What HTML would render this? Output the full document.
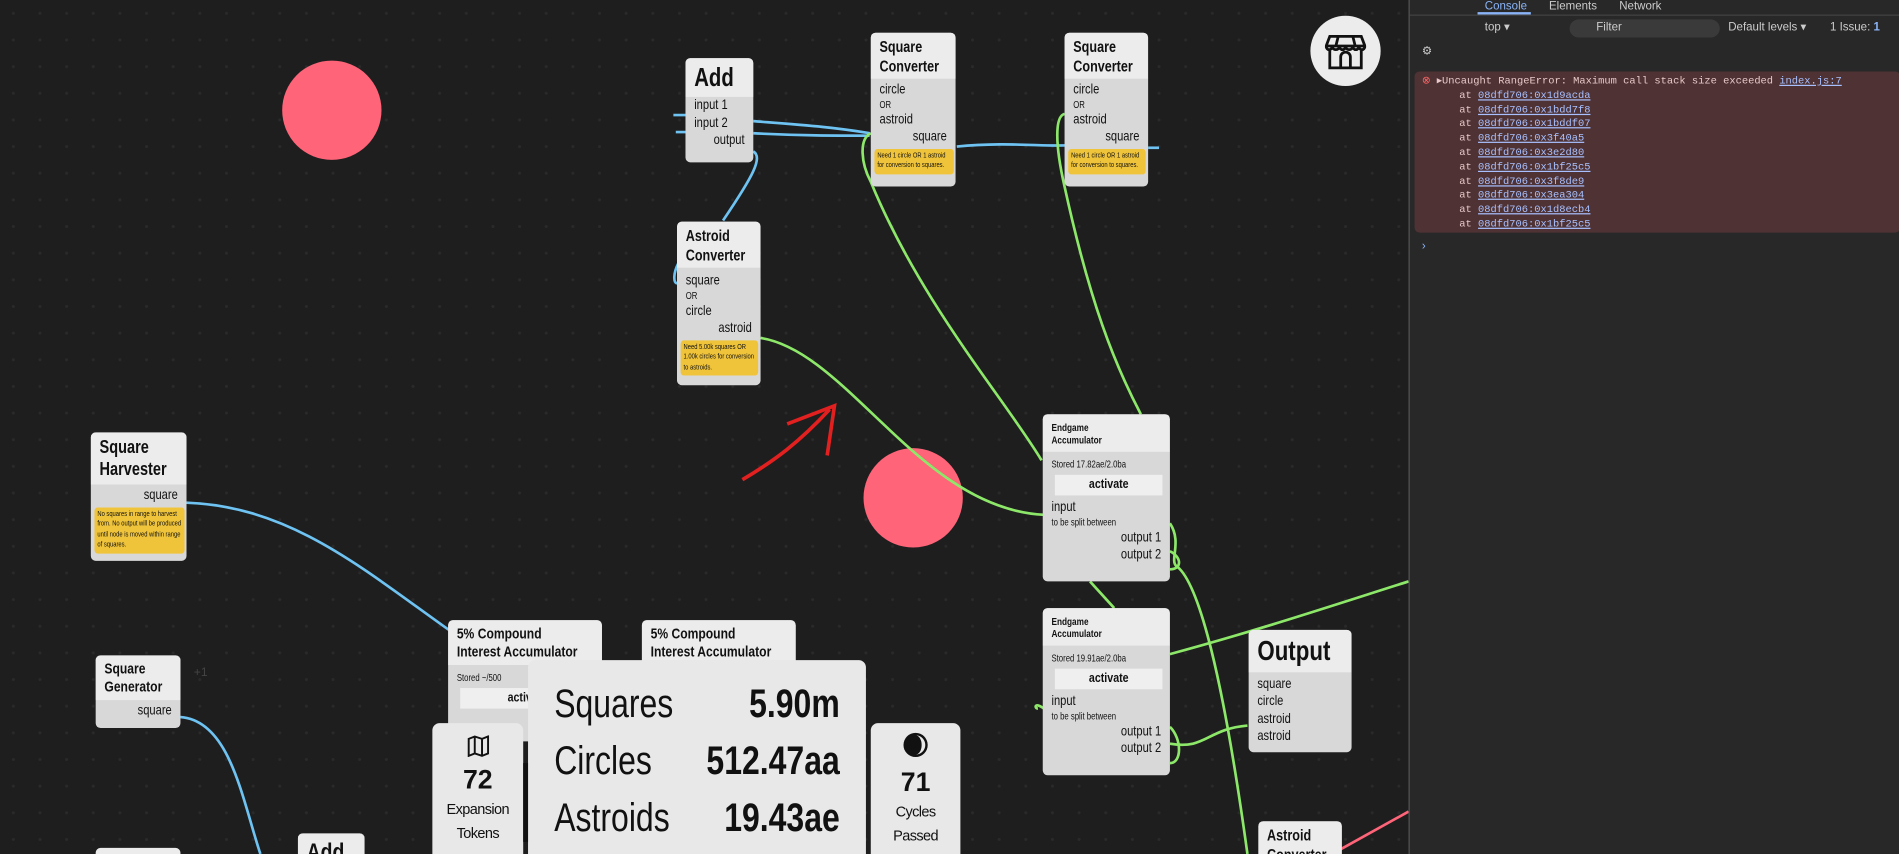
<!DOCTYPE html>
<html><head><meta charset="utf-8"><style>
html,body{margin:0;padding:0;width:1899px;height:854px;overflow:hidden;background:#1e1e1e}
#w{position:absolute;left:0;top:0;width:1568px;height:705px;transform:scale(1.2111,1.2113);transform-origin:0 0;font-family:"Liberation Sans",sans-serif;color:#111}
#cv{position:absolute;left:0;top:0;width:1163px;height:705px;background-color:#1e1e1e;background-image:radial-gradient(circle,#2a2a2a 1px,transparent 1.5px);background-size:22px 22px;overflow:hidden}
.n{position:absolute;background:#d8d8d8;border-radius:4px;overflow:hidden}
.n>div,.p>div.sc{transform:scaleX(.8);transform-origin:0 0;width:125%;box-sizing:border-box}
.h{background:#ececec;padding:4px 9px 3px 9px;font-weight:bold;line-height:1.2}
.r{font-size:11.5px;padding:0 9px;line-height:14.5px}
.rr{text-align:right}
.s{font-size:8px;line-height:10px}
.n>div.y{background:#f0c43a;font-size:6px;line-height:8.5px;margin:2px 2.5px;width:calc(125% - 6px);padding:2px 3px;border-radius:3px}
.n>div.btn{background:#efefef;margin:3px 10px;width:calc(125% - 20px);text-align:center;font-weight:bold;font-size:11px;line-height:17px}
.circ{position:absolute;border-radius:50%;background:#ff6479}
.p{position:absolute;background:#e8e8e8;border-radius:6px}
#dt{position:absolute;left:1163px;top:0;width:405px;height:705px;background:#282828;border-left:1px solid #555;font-family:"Liberation Sans",sans-serif;color:#ccc;font-size:9.5px}
.mono{font-family:"Liberation Mono",monospace;font-size:8.6px;color:#e8c8c8}
.mono u{color:#a8c0ff}
</style></head><body><div id="w">
<div id="cv">
<div class="circ" style="left:233px;top:50px;width:82px;height:82px"></div>
<div class="circ" style="left:713px;top:370px;width:82px;height:82px"></div>
<div style="position:absolute;left:1082px;top:13px;width:58px;height:58px;border-radius:50%;background:#ececec"></div>
<svg style="position:absolute;left:1094px;top:26px" width="34" height="32" viewBox="0 0 34 32" fill="none" stroke="#111" stroke-width="2.3"><path d="M4 4h26l3 8H1z M1 12c0 4 5 4 5 0c0 4 6 4 6 0c0 4 5 4 5 0c0 4 6 4 6 0c0 4 5 4 5 0c0 4 5 4 5 0 M4 16v14h26V16 M13 30v-9a4 4 0 0 1 8 0v9 M11 4l-2 8 M23 4l2 8"/></svg>

<svg style="position:absolute;left:0;top:0" width="1163" height="705" fill="none" stroke-width="2.2">
<g stroke="#6ec3f2">
<path d="M556 95h10 M558 109h8"/>
<path d="M622 100C660 103 690 105 718 110"/>
<path d="M622 110C660 112 690 112 718 112"/>
<path d="M622 125c8 5 0 20-25 57"/>
<path d="M588 198c-30 5-35 35-29 36"/>
<path d="M790 121C830 117 860 121 880 120"/>
<path d="M948 122h9"/>
<path d="M154 415C240 418 300 470 372 521"/>
<path d="M149 592C190 595 200 660 215 705"/>
</g>
<g stroke="#8de86a">
<path d="M719 110c-10 5-8 25 0 40C760 250 830 330 860 380"/>
<path d="M879 94c-8 2-8 25 0 60C900 250 920 300 942 342"/>
<path d="M628 279C700 290 760 420 862 425"/>
<path d="M966 432c10 15 0 30 5 35C990 480 1010 560 1030 705"/>
<path d="M966 455c10 5 10 15 0 15"/>
<path d="M900 480l20 22"/>
<path d="M966 540C1040 520 1100 500 1163 480"/>
<path d="M862 585c-8-6-8 0-5 0"/>
<path d="M966 614c30 5 30-12 64-15"/>
<path d="M966 630c10 0 10-20 0-30"/>
</g>
<path stroke="#ff6479" d="M1100 705l63-35"/>
<path stroke="#e32020" stroke-width="3" d="M613 396C640 380 660 365 685 338 M650 350L689 335L683 376"/>
</svg>

<div class="n" style="left:566px;top:48px;width:56px;height:86px"><div class="h" style="font-size:21px">Add</div>
<div class="r">input 1</div><div class="r">input 2</div><div class="r rr">output</div></div>

<div class="n" style="left:719px;top:27px;width:70px;height:127px"><div class="h" style="font-size:13px">Square<br>Converter</div>
<div class="r" style="margin-top:2px">circle</div><div class="r s">OR</div><div class="r">astroid</div><div class="r rr">square</div>
<div class="y">Need 1 circle OR 1 astroid for conversion to squares.</div></div>

<div class="n" style="left:879px;top:27px;width:69px;height:127px"><div class="h" style="font-size:13px">Square<br>Converter</div>
<div class="r" style="margin-top:2px">circle</div><div class="r s">OR</div><div class="r">astroid</div><div class="r rr">square</div>
<div class="y">Need 1 circle OR 1 astroid for conversion to squares.</div></div>

<div class="n" style="left:559px;top:183px;width:69px;height:135px"><div class="h" style="font-size:13px">Astroid<br>Converter</div>
<div class="r" style="margin-top:4px">square</div><div class="r s">OR</div><div class="r">circle</div><div class="r rr">astroid</div>
<div class="y">Need 5.00k squares OR 1.00k circles for conversion to astroids.</div></div>

<div class="n" style="left:75px;top:357px;width:79px;height:106px"><div class="h" style="font-size:15px">Square<br>Harvester</div>
<div class="r rr" style="margin-top:2px">square</div>
<div class="y">No squares in range to harvest from. No output will be produced until node is moved within range of squares.</div></div>

<div class="n" style="left:79px;top:541px;width:70px;height:60px"><div class="h" style="font-size:12.5px">Square<br>Generator</div>
<div class="r rr" style="margin-top:2px">square</div></div>
<div style="position:absolute;left:160px;top:550px;color:#444;font-size:10px">+1</div>
<div class="n" style="left:79px;top:700px;width:70px;height:20px;background:#ececec"></div>
<div class="n" style="left:246px;top:688px;width:55px;height:30px;background:#ececec"><div class="h" style="font-size:20px">Add</div></div>

<div class="n" style="left:861px;top:342px;width:105px;height:138px"><div class="h" style="font-size:8.5px;padding:6px 9px 5px">Endgame<br>Accumulator</div>
<div class="r s" style="margin-top:6px">Stored 17.82ae/2.0ba</div><div class="btn">activate</div>
<div class="r">input</div><div class="r s">to be split between</div><div class="r rr">output 1</div><div class="r rr">output 2</div></div>

<div class="n" style="left:861px;top:502px;width:105px;height:138px"><div class="h" style="font-size:8.5px;padding:6px 9px 5px">Endgame<br>Accumulator</div>
<div class="r s" style="margin-top:6px">Stored 19.91ae/2.0ba</div><div class="btn">activate</div>
<div class="r">input</div><div class="r s">to be split between</div><div class="r rr">output 1</div><div class="r rr">output 2</div></div>

<div class="n" style="left:1031px;top:520px;width:85px;height:101px"><div class="h" style="font-size:23px">Output</div>
<div class="r" style="margin-top:3px">square</div><div class="r">circle</div><div class="r">astroid</div><div class="r">astroid</div></div>

<div class="n" style="left:1039px;top:678px;width:69px;height:40px"><div class="h" style="font-size:13px">Astroid<br>Converter</div></div>

<div class="n" style="left:370px;top:512px;width:127px;height:100px"><div class="h" style="font-size:12.5px">5% Compound<br>Interest Accumulator</div>
<div class="r s" style="margin-top:6px">Stored ~/500</div><div class="btn">activate</div></div>
<div class="n" style="left:530px;top:512px;width:127px;height:60px"><div class="h" style="font-size:12.5px">5% Compound<br>Interest Accumulator</div></div>

<div class="p" style="left:436px;top:545px;width:279px;height:170px"><div class="sc" style="position:relative;height:170px">
<div style="position:absolute;left:27px;top:12px;font-size:33px;line-height:47px">Squares<br>Circles<br>Astroids</div>
<div style="position:absolute;right:27px;top:12px;font-size:33px;line-height:47px;text-align:right;font-weight:bold">5.90m<br>512.47aa<br>19.43ae</div>
</div></div>
<div class="p" style="left:357px;top:597px;width:75px;height:120px;text-align:center">
<svg style="margin-top:10px" width="18" height="18" viewBox="0 0 18 18" fill="none" stroke="#111" stroke-width="1.6"><path d="M1 3l5-2 6 2 5-2v14l-5 2-6-2-5 2z M6 1v14 M12 3v14"/></svg>
<div style="font-size:22px;font-weight:bold;line-height:28px">72</div><div style="font-size:12px;line-height:20px;letter-spacing:-.5px">Expansion<br>Tokens</div></div>
<div style="position:absolute;left:432px;top:630px;width:4px;height:65px;background:#111"></div>
<div class="p" style="left:719px;top:597px;width:74px;height:120px;text-align:center">
<svg style="margin-top:6px" width="24" height="24" viewBox="0 0 24 24"><circle cx="12" cy="12" r="10" fill="#111"/><path d="M12 4a8 8 0 0 1 0 16a5 8 0 0 0 0-16z" fill="#e8e8e8"/></svg>
<div style="font-size:22px;font-weight:bold;line-height:28px">71</div><div style="font-size:12px;line-height:20px;letter-spacing:-.5px">Cycles<br>Passed</div></div>
</div>

<div id="dt">
<div style="height:12px;border-bottom:1px solid #444;position:relative;overflow:hidden">
<span style="position:absolute;left:62px;top:0px;color:#8ab4f8">Console</span><span style="position:absolute;left:115px;top:0px">Elements</span><span style="position:absolute;left:173px;top:0px">Network</span>
<div style="position:absolute;left:56px;top:10px;width:44px;height:2px;background:#8ab4f8"></div></div>
<div style="position:absolute;top:16px;left:10px;width:390px;height:16px">
<span style="position:absolute;left:52px;top:1px">top ▾</span>
<div style="position:absolute;left:122px;top:0;width:124px;height:15px;border-radius:8px;background:#3a3a3a"><span style="position:absolute;left:22px;top:1px">Filter</span></div>
<span style="position:absolute;left:253px;top:1px">Default levels ▾</span><span style="position:absolute;left:337px;top:1px">1 Issue: <b style="color:#8ab4f8">1</b></span></div>
<div style="position:absolute;top:37px;left:10px">⚙</div>
<div style="position:absolute;top:59px;left:4px;width:401px;height:133px;background:#4e3234;border-radius:4px">
<div class="mono" style="position:absolute;left:6px;top:3px;line-height:11.8px;white-space:pre"><span style="color:#f66">⊗</span> ▸Uncaught RangeError: Maximum call stack size exceeded <u>index.js:7</u>
      at <u>08dfd706:0x1d9acda</u>
      at <u>08dfd706:0x1bdd7f8</u>
      at <u>08dfd706:0x1bddf07</u>
      at <u>08dfd706:0x3f40a5</u>
      at <u>08dfd706:0x3e2d80</u>
      at <u>08dfd706:0x1bf25c5</u>
      at <u>08dfd706:0x3f8de9</u>
      at <u>08dfd706:0x3ea304</u>
      at <u>08dfd706:0x1d8ecb4</u>
      at <u>08dfd706:0x1bf25c5</u></div></div>
<div style="position:absolute;top:198px;left:10px;color:#8ab4f8">›</div>
</div>
</div></body></html>
